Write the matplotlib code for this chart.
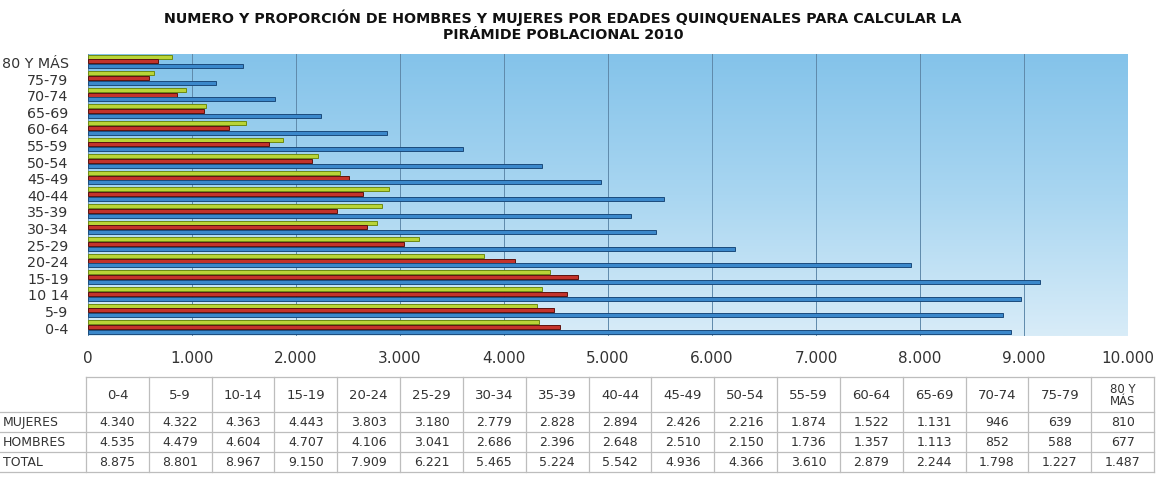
import numpy as np
import matplotlib
matplotlib.use("Agg")
import matplotlib.pyplot as plt
from matplotlib.colors import LinearSegmentedColormap

# datos
edades = ["0-4", "5-9", "10 14", "15-19", "20-24", "25-29", "30-34", "35-39", "40-44",
          "45-49", "50-54", "55-59", "60-64", "65-69", "70-74", "75-79", "80 Y MÁS"]
edades_tabla = ["0-4", "5-9", "10-14", "15-19", "20-24", "25-29", "30-34", "35-39", "40-44",
                "45-49", "50-54", "55-59", "60-64", "65-69", "70-74", "75-79", "80 Y\nMÁS"]
mujeres = [4340, 4322, 4363, 4443, 3803, 3180, 2779, 2828, 2894,
           2426, 2216, 1874, 1522, 1131, 946, 639, 810]
hombres = [4535, 4479, 4604, 4707, 4106, 3041, 2686, 2396, 2648,
           2510, 2150, 1736, 1357, 1113, 852, 588, 677]
total = [8875, 8801, 8967, 9150, 7909, 6221, 5465, 5224, 5542,
         4936, 4366, 3610, 2879, 2244, 1798, 1227, 1487]
filas = ["MUJERES", "HOMBRES", "TOTAL"]
xticks = list(range(0, 10001, 1000))

W, H = 1164, 481
fig = plt.figure(figsize=(W / 100, H / 100), dpi=100)
fig.patch.set_facecolor("white")


def fmt(v):
    return f"{v:,}".replace(",", ".")


# --- grafico de barras ---
ax = fig.add_axes([88 / W, 1 - 337 / H, (1128 - 88) / W, (337 - 55) / H])
grad = LinearSegmentedColormap.from_list("fondo", ["#d8ecf8", "#a9d6f1", "#84c3ea"])
ax.imshow(np.linspace(0, 1, 256).reshape(-1, 1), cmap=grad, origin="lower",
          aspect="auto", extent=[0, 1, 0, 1], transform=ax.transAxes, zorder=0)

y = np.arange(len(edades))
h = 0.24
ax.barh(y + 0.29, mujeres, height=h, color="#b9d437", edgecolor="#6c8a12",
        linewidth=0.7, zorder=3)
ax.barh(y, hombres, height=h, color="#c3332b", edgecolor="#5e120e",
        linewidth=0.7, zorder=3)
ax.barh(y - 0.29, total, height=h, color="#3b88cb", edgecolor="#1b4b7c",
        linewidth=0.7, zorder=3)

ax.set_xlim(0, 10000)
ax.set_ylim(-0.54, 16.45)
ax.set_xticks(xticks)
ax.set_xticklabels([fmt(v) for v in xticks])
ax.set_yticks(y)
ax.set_yticklabels(edades)
ax.grid(axis="x", color="#5f8aab", linewidth=0.7, zorder=1)
ax.tick_params(axis="y", length=0, pad=14, labelsize=10.3, labelcolor="#333333")
ax.tick_params(axis="x", length=0, pad=10, labelsize=11, labelcolor="#333333")
for s in ax.spines.values():
    s.set_visible(False)

# --- titulo ---
fig.text(563 / W, 1 - 18 / H, "NUMERO Y PROPORCIÓN DE HOMBRES Y MUJERES POR EDADES "
         "QUINQUENALES PARA CALCULAR LA", ha="center", va="center",
         fontsize=10.3, fontweight="bold", color="#111111")
fig.text(563 / W, 1 - 35 / H, "PIRÁMIDE POBLACIONAL 2010", ha="center", va="center",
         fontsize=10.3, fontweight="bold", color="#111111")

# --- tabla de datos ---
tb = fig.add_axes([0, 0, 1, 1])
tb.set_xlim(0, W)
tb.set_ylim(H, 0)
tb.axis("off")
x0, x1 = 86, 1154
cw = (x1 - x0) / len(edades_tabla)
ys = [378, 413, 433, 453, 473]
lc = "#bdbdbd"
tb.plot([x0, x1], [ys[0], ys[0]], color=lc, lw=0.9)
for yy in ys[1:]:
    tb.plot([0, x1], [yy, yy], color=lc, lw=0.9)
for i in range(len(edades_tabla) + 1):
    tb.plot([x0 + i * cw] * 2, [ys[0], ys[-1]], color=lc, lw=0.9)

for i, lab in enumerate(edades_tabla):
    cx = x0 + (i + 0.5) * cw
    tb.text(cx, (ys[0] + ys[1]) / 2, lab, ha="center", va="center",
            fontsize=9.5 if "\n" not in lab else 8.5, linespacing=0.95, color="#333333")
    for r, serie in enumerate([mujeres, hombres, total]):
        tb.text(cx, (ys[r + 1] + ys[r + 2]) / 2, fmt(serie[i]), ha="center",
                va="center", fontsize=9, color="#333333")
for r, nombre in enumerate(filas):
    tb.text(3, (ys[r + 1] + ys[r + 2]) / 2, nombre, ha="left", va="center",
            fontsize=9, color="#333333")

fig.savefig("out.png", dpi=100)
